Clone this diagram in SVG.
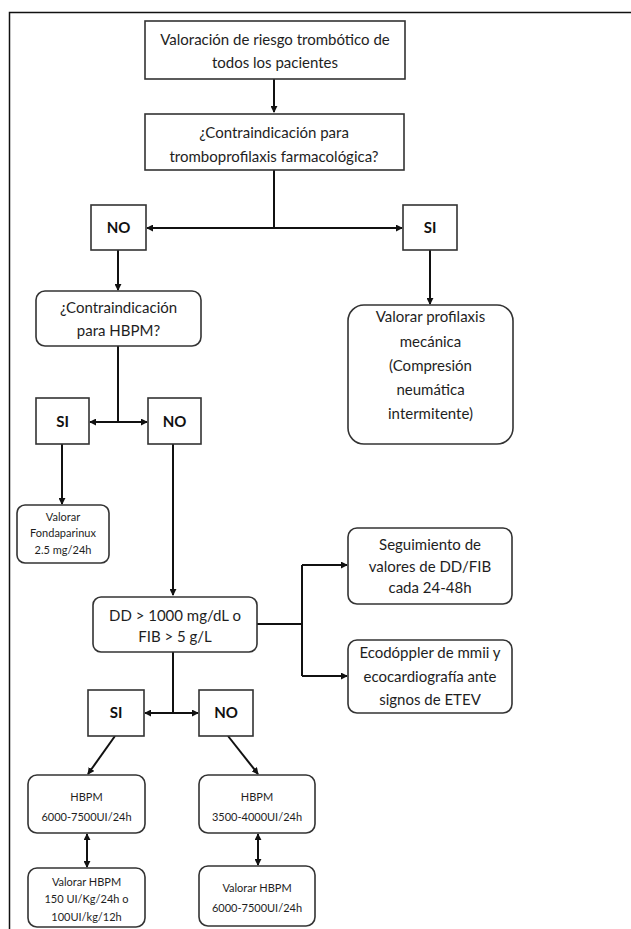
<svg xmlns="http://www.w3.org/2000/svg" width="631" height="929" viewBox="0 0 631 929">
<style>
.box{fill:#fff;stroke:#333;stroke-width:1.6}
.t{font-family:Lato,"Liberation Sans",sans-serif;font-size:15px;fill:#1e1e1e;text-anchor:middle}
.s{font-family:Lato,"Liberation Sans",sans-serif;font-size:11px;fill:#1e1e1e;text-anchor:middle}
.b{font-family:Lato,"Liberation Sans",sans-serif;font-size:15px;font-weight:bold;fill:#111;text-anchor:middle}
.c{fill:none;stroke:#111;stroke-width:2}
</style>
<defs>
<marker id="ah" viewBox="0 0 8 8" refX="7" refY="4" markerWidth="7" markerHeight="7" markerUnits="userSpaceOnUse" orient="auto-start-reverse">
<path d="M0,0 L8,4 L0,8 z" fill="#111"/>
</marker>
</defs>
<rect width="631" height="929" fill="#fff"/>
<path d="M9.5,929 V12.5 H631" fill="none" stroke="#111" stroke-width="1.5"/>

<g id="connectors">
<path class="c" d="M274,79 V112" marker-end="url(#ah)"/>
<path class="c" d="M274,170 V228"/>
<path class="c" d="M274,228 H147" marker-end="url(#ah)"/>
<path class="c" d="M274,228 H402" marker-end="url(#ah)"/>
<path class="c" d="M118,250 V290" marker-end="url(#ah)"/>
<path class="c" d="M430,250 V304" marker-end="url(#ah)"/>
<path class="c" d="M118,346 V422"/>
<path class="c" d="M118,422 H90" marker-end="url(#ah)"/>
<path class="c" d="M118,422 H147" marker-end="url(#ah)"/>
<path class="c" d="M62,444 V504" marker-end="url(#ah)"/>
<path class="c" d="M173,444 V595" marker-end="url(#ah)"/>
<path class="c" d="M257,624 H302"/>
<path class="c" d="M302,565 V676"/>
<path class="c" d="M302,565 H347" marker-end="url(#ah)"/>
<path class="c" d="M302,676 H347" marker-end="url(#ah)"/>
<path class="c" d="M173,652 V713"/>
<path class="c" d="M173,713 H145" marker-end="url(#ah)"/>
<path class="c" d="M173,713 H198" marker-end="url(#ah)"/>
<path class="c" d="M115,736 L88,774" marker-end="url(#ah)"/>
<path class="c" d="M228,736 L258,774" marker-end="url(#ah)"/>
<path class="c" d="M87,834 V867" marker-start="url(#ah)" marker-end="url(#ah)"/>
<path class="c" d="M258,834 V865" marker-start="url(#ah)" marker-end="url(#ah)"/>
</g>

<g id="n1"><rect class="box" x="145" y="21" width="260" height="58"/>
<text class="t" x="275" y="45">Valoración de riesgo trombótico de</text>
<text class="t" x="275" y="68">todos los pacientes</text></g>

<g id="n2"><rect class="box" x="145" y="114" width="259" height="56"/>
<text class="t" x="274" y="138">¿Contraindicación para</text>
<text class="t" x="274" y="162">tromboprofilaxis farmacológica?</text></g>

<g id="no1"><rect class="box" x="91" y="205" width="55" height="45"/>
<text class="b" x="118.5" y="233">NO</text></g>

<g id="si1"><rect class="box" x="403" y="205" width="54" height="45"/>
<text class="b" x="430" y="233">SI</text></g>

<g id="n3"><rect class="box" x="36" y="291" width="165" height="55" rx="9"/>
<text class="t" x="118.5" y="313">¿Contraindicación</text>
<text class="t" x="118.5" y="336">para HBPM?</text></g>

<g id="n4"><rect class="box" x="348" y="305" width="165" height="139" rx="16"/>
<text class="t" x="430.5" y="322">Valorar profilaxis</text>
<text class="t" x="430.5" y="347">mecánica</text>
<text class="t" x="430.5" y="371">(Compresión</text>
<text class="t" x="430.5" y="395">neumática</text>
<text class="t" x="430.5" y="419">intermitente)</text></g>

<g id="si2"><rect class="box" x="36" y="398" width="53" height="46"/>
<text class="b" x="62.5" y="427">SI</text></g>

<g id="no2"><rect class="box" x="148" y="398" width="53" height="46"/>
<text class="b" x="174.5" y="427">NO</text></g>

<g id="n5"><rect class="box" x="17" y="505" width="92" height="58" rx="8"/>
<text class="s" x="63" y="521">Valorar</text>
<text class="s" x="63" y="537">Fondaparinux</text>
<text class="s" x="63" y="554">2.5 mg/24h</text></g>

<g id="n6"><rect class="box" x="93" y="597" width="164" height="55" rx="8"/>
<text class="t" x="175" y="621">DD &gt; 1000 mg/dL o</text>
<text class="t" x="175" y="642">FIB &gt; 5 g/L</text></g>

<g id="n7"><rect class="box" x="348" y="528" width="164" height="76" rx="9"/>
<text class="t" x="430" y="550">Seguimiento de</text>
<text class="t" x="430" y="572">valores de DD/FIB</text>
<text class="t" x="430" y="593">cada 24-48h</text></g>

<g id="n8"><rect class="box" x="348" y="640" width="164" height="73" rx="9"/>
<text class="t" x="430" y="658">Ecodóppler de mmii y</text>
<text class="t" x="430" y="682">ecocardiografía ante</text>
<text class="t" x="430" y="705">signos de ETEV</text></g>

<g id="si3"><rect class="box" x="88" y="690" width="56" height="46"/>
<text class="b" x="116" y="718">SI</text></g>

<g id="no3"><rect class="box" x="199" y="690" width="54" height="46"/>
<text class="b" x="226" y="718">NO</text></g>

<g id="n9"><rect class="box" x="28" y="775" width="117" height="58" rx="9"/>
<text class="s" x="86.5" y="801">HBPM</text>
<text class="s" x="86.5" y="821">6000-7500UI/24h</text></g>

<g id="n10"><rect class="box" x="199" y="775" width="116" height="58" rx="9"/>
<text class="s" x="257" y="801">HBPM</text>
<text class="s" x="257" y="821">3500-4000UI/24h</text></g>

<g id="n11"><rect class="box" x="28" y="868" width="117" height="59" rx="9"/>
<text class="s" x="86.5" y="886">Valorar HBPM</text>
<text class="s" x="86.5" y="903">150 UI/Kg/24h o</text>
<text class="s" x="86.5" y="921">100UI/kg/12h</text></g>

<g id="n12"><rect class="box" x="199" y="866" width="116" height="60" rx="9"/>
<text class="s" x="257" y="892">Valorar HBPM</text>
<text class="s" x="257" y="912">6000-7500UI/24h</text></g>
</svg>
